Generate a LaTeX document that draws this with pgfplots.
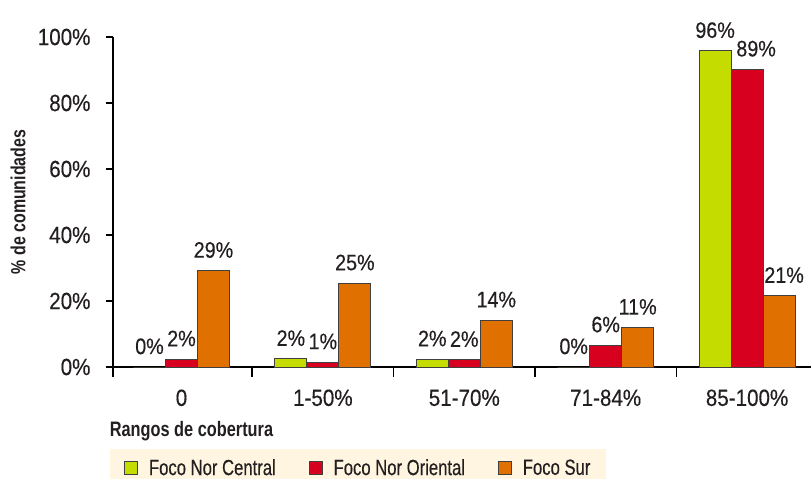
\documentclass[border=0pt]{standalone}
\usepackage{pgfplots}
\pgfplotsset{compat=1.18}
\usepackage{fontspec}
\setmainfont{Liberation Sans}[FakeStretch=0.88, FakeBold=0.3]
\newfontfamily\legfont{Liberation Sans}[FakeStretch=0.76, FakeBold=0.3]
\newfontfamily\labfont{Liberation Sans}[FakeStretch=0.78]
\usetikzlibrary{calc}
\definecolor{cgreen}{RGB}{196,220,0}
\definecolor{cred}{RGB}{215,0,30}
\definecolor{corange}{RGB}{224,112,0}
\definecolor{cream}{RGB}{255,245,225}
\definecolor{txt}{RGB}{35,31,32}
\begin{document}
\begin{tikzpicture}
\begin{axis}[
 name=ax, at={(0,0)}, anchor=south west,
 scale only axis, width=698bp, height=330bp,
 xmin=-0.4844, xmax=4.452, ymin=0, ymax=100,
 ybar=0pt, bar width=0.2263,
 axis x line*=bottom, axis y line*=left,
 axis line style={-, line width=1.5bp, black},
 tick align=outside,
 xtick={0,1,2,3,4}, xticklabels={0,1-50\%,51-70\%,71-84\%,85-100\%},
 major x tick style={draw=none},
 minor xtick={-0.4844,0.5,1.5,2.5,3.5},
 minor x tick style={line width=1.5bp, black},
 minor tick length=10bp,
 ytick={0,20,40,60,80,100}, yticklabels={0\%,20\%,40\%,60\%,80\%,100\%},
 major tick length=7bp,
 ytick style={line width=1.5bp, black},
 tick label style={font=\fontsize{23.5}{27}\selectfont, text=txt},
 xticklabel style={yshift=-12bp},
 yticklabel style={xshift=-12bp},
 clip=false,
 nodes near coords, point meta=explicit symbolic,
 every node near coord/.append style={font=\fontsize{22.5}{26}\selectfont, text=txt, yshift=9bp},
 ylabel={\% de comunidades},
 ylabel style={at={(axis description cs:-0.136,0.5)}, anchor=center, font=\labfont\bfseries\fontsize{20.5}{24}\selectfont, text=txt},
 xlabel={Rangos de cobertura},
 xlabel style={at={(axis description cs:-0.0095,-0.212)}, anchor=base west, font=\labfont\bfseries\fontsize{21}{25}\selectfont, text=txt},
 legend columns=3,
 legend style={at={(axis description cs:-0.0043,-0.2485)}, anchor=north west, fill=cream, draw=none,
   font=\legfont\fontsize{22}{26}\selectfont, text=txt, inner xsep=14bp, inner ysep=8bp,
   /tikz/every odd column/.append style={column sep=9bp},
   /tikz/every even column/.append style={column sep=31bp}},
 legend image code/.code={\draw[#1, line width=0.8bp] (0bp,-6.5bp) rectangle (13bp,6.5bp);},
]
\addplot[fill=cgreen, draw=black!75, line width=0.8bp] coordinates {
 (0,0) [0\%] (1,2.5) [2\%] (2,2.4) [2\%] (3,0) [0\%] (4,95.8) [96\%]};
\addplot[fill=cred, draw=black!75, line width=0.8bp] coordinates {
 (0,2.4) [2\%] (1,1.5) [1\%] (2,2.2) [2\%] (3,6.6) [6\%] (4,90.2) [\hspace*{18bp}89\%]};
\addplot[fill=corange, draw=black!75, line width=0.8bp] coordinates {
 (0,29.2) [29\%] (1,25.4) [25\%] (2,14.2) [14\%] (3,12.0) [11\%] (4,21.6) [\hspace*{10bp}21\%]};
\legend{Foco Nor Central, Foco Nor Oriental, Foco Sur}
\end{axis}
\pgfresetboundingbox
\path ($(ax.south west)+(-113bp,-112bp)$) rectangle ($(ax.north east)+(0bp,37bp)$);
\end{tikzpicture}
\end{document}
